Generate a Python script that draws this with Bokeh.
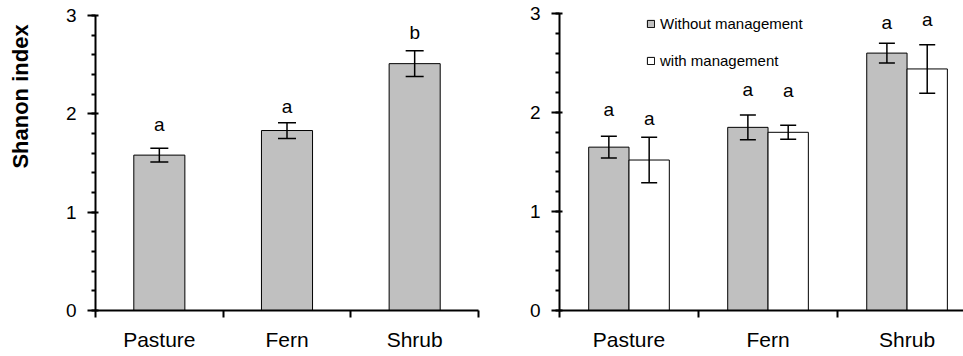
from bokeh.plotting import figure
from bokeh.layouts import row
from bokeh.models import (Range1d, FixedTicker, SingleIntervalTicker, Whisker, TeeHead,
                          ColumnDataSource, Label, Legend, LegendItem)
from bokeh.core.properties import value
from bokeh.embed import file_html
from bokeh.resources import INLINE

# ---------------- data ----------------
categories = ["Pasture", "Fern", "Shrub"]

# left panel: Shannon index per land use
shannon = [1.58, 1.83, 2.51]
shannon_err = [0.07, 0.08, 0.13]
left_letters = ["a", "a", "b"]
left_letter_y = [1.89, 2.07, 2.83]

# right panel: with / without management
without_mgmt = [1.65, 1.85, 2.60]
without_err = [0.11, 0.125, 0.10]
without_letters = ["a", "a", "a"]
without_letter_y = [2.03, 2.23, 2.91]

with_mgmt = [1.52, 1.80, 2.44]
with_err = [0.23, 0.07, 0.245]
with_letters = ["a", "a", "a"]
with_letter_y = [1.94, 2.225, 2.94]

series_names = ["Without management", "with management"]
y_label = "Shanon index"

FONT = "Liberation Sans"
GRAY = "#c0c0c0"


def style_axes(p):
    xa = p.xaxis[0]
    centers = [i + 0.5 for i in range(len(categories))]
    xa.ticker = FixedTicker(ticks=centers, minor_ticks=list(range(len(categories) + 1)))
    xa.major_label_overrides = {c: name for c, name in zip(centers, categories)}
    xa.major_tick_line_color = None
    xa.major_tick_out = 0
    xa.major_tick_in = 0
    xa.minor_tick_out = 7
    xa.minor_tick_in = 0
    xa.minor_tick_line_width = 2
    xa.minor_tick_line_color = "black"
    xa.axis_line_width = 2
    xa.axis_line_color = "black"
    xa.major_label_standoff = 10
    xa.major_label_text_font = FONT
    xa.major_label_text_font_size = "21px"
    xa.major_label_text_color = "black"

    ya = p.yaxis[0]
    ya.ticker = SingleIntervalTicker(interval=1, num_minor_ticks=5)
    ya.bounds = (0, 3)
    ya.major_tick_out = 8
    ya.major_tick_in = 3
    ya.major_tick_line_width = 2
    ya.major_tick_line_color = "black"
    ya.minor_tick_out = 4
    ya.minor_tick_in = 0
    ya.minor_tick_line_width = 2
    ya.minor_tick_line_color = "black"
    ya.axis_line_width = 2
    ya.axis_line_color = "black"
    ya.major_label_standoff = 11
    ya.major_label_text_font = FONT
    ya.major_label_text_font_size = "19px"
    ya.major_label_text_color = "black"

    p.xgrid.visible = False
    p.ygrid.visible = False
    p.outline_line_color = None
    p.background_fill_color = "white"
    p.border_fill_color = "white"


def add_err(p, xs, vals, errs, head):
    src = ColumnDataSource(dict(x=xs, upper=[v + e for v, e in zip(vals, errs)],
                                lower=[v - e for v, e in zip(vals, errs)]))
    w = Whisker(base="x", upper="upper", lower="lower", source=src, level="annotation",
                line_width=1.5, line_color="black",
                upper_head=TeeHead(size=head, line_width=1.5, line_color="black"),
                lower_head=TeeHead(size=head, line_width=1.5, line_color="black"))
    p.add_layout(w)


def add_letters(p, xs, ys, letters):
    src = ColumnDataSource(dict(x=xs, y=ys, t=letters))
    p.text(x="x", y="y", text="t", source=src, text_font=value(FONT),
           text_font_size="19px", text_align="center", text_baseline="middle",
           text_color="black")


# ---------------- y-axis title strip ----------------
lab = figure(width=40, height=356, x_range=Range1d(0, 1), y_range=Range1d(0, 1),
             x_axis_type=None, y_axis_type=None,
             output_backend="svg", toolbar_location=None, title=None,
             min_border_left=0, min_border_right=0, min_border_top=13, min_border_bottom=46)
lab.outline_line_color = None
lab.xgrid.visible = False
lab.ygrid.visible = False
lab.add_layout(Label(x=20, y=214, x_units="screen", y_units="screen",
                     text=y_label, angle=90, angle_units="deg",
                     text_align="center", text_baseline="middle",
                     text_font=FONT, text_font_style="bold", text_font_size="22px",
                     text_color="black"))

# ---------------- left panel ----------------
p1 = figure(width=440, height=356, x_range=Range1d(0, 3), y_range=Range1d(0, 3.02),
            output_backend="svg", toolbar_location=None, title=None,
            min_border_left=55, min_border_right=2, min_border_top=13, min_border_bottom=46)
style_axes(p1)
x1 = [i + 0.5 for i in range(len(categories))]
p1.vbar(x=x1, top=shannon, width=0.4, bottom=0, fill_color=GRAY,
        line_color="black", line_width=1)
add_err(p1, x1, shannon, shannon_err, 18)
add_letters(p1, x1, left_letter_y, left_letters)

# ---------------- right panel ----------------
p2 = figure(width=483, height=356, x_range=Range1d(0, 2.906), y_range=Range1d(0, 3),
            output_backend="svg", toolbar_location=None, title=None,
            min_border_left=79, min_border_right=0, min_border_top=13, min_border_bottom=45)
style_axes(p2)
bw = 0.29
xa_ = [i + 0.5 - bw / 2 for i in range(len(categories))]
xb_ = [i + 0.5 + bw / 2 for i in range(len(categories))]
r_without = p2.vbar(x=xa_, top=without_mgmt, width=bw, bottom=0, fill_color=GRAY,
                    line_color="black", line_width=1)
r_with = p2.vbar(x=xb_, top=with_mgmt, width=bw, bottom=0, fill_color="white",
                 line_color="black", line_width=1)
add_err(p2, xa_, without_mgmt, without_err, 16)
add_err(p2, xb_, with_mgmt, with_err, 16)
add_letters(p2, xa_, without_letter_y, without_letters)
add_letters(p2, xb_, with_letter_y, with_letters)

legend = Legend(items=[LegendItem(label=series_names[0], renderers=[r_without]),
                       LegendItem(label=series_names[1], renderers=[r_with])],
                location=(87, 240), glyph_width=9, glyph_height=9, label_height=20,
                spacing=17, padding=0, margin=0, label_standoff=5,
                label_text_font=FONT, label_text_font_size="15px",
                label_text_color="black", border_line_color=None,
                background_fill_alpha=0)
p2.add_layout(legend)

layout = row(lab, p1, p2, spacing=0)
open("out.html", "w").write(file_html(layout, INLINE))
